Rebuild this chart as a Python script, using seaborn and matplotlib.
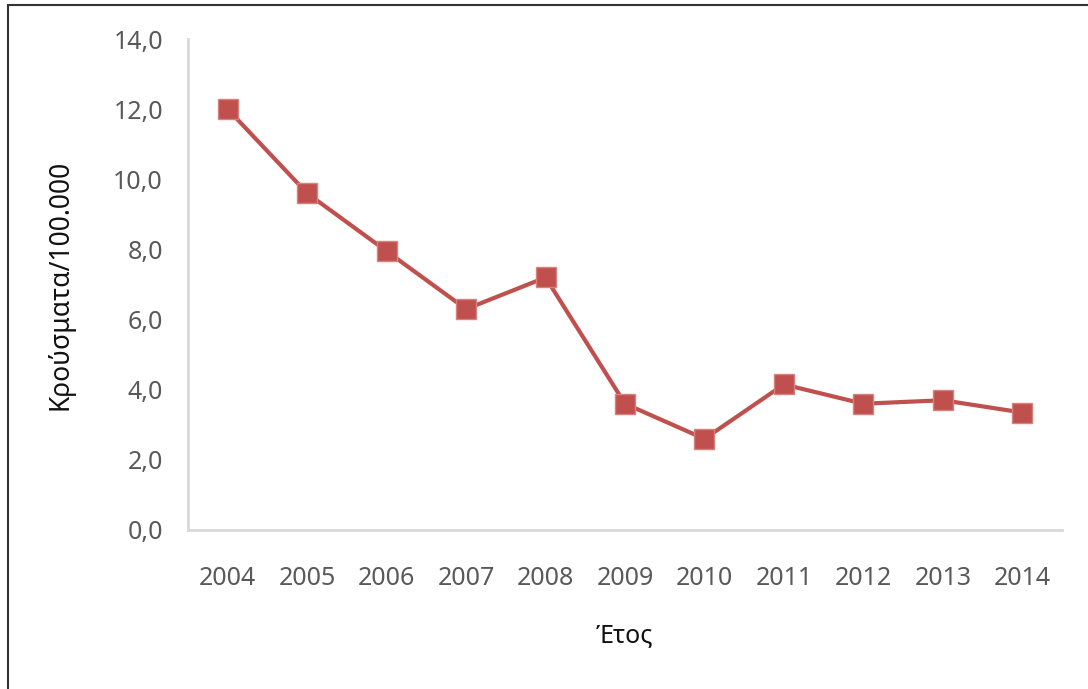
import matplotlib
matplotlib.use('Agg')
import matplotlib.pyplot as plt
import matplotlib.ticker as mticker
from matplotlib.patches import Rectangle
import seaborn as sns
import pandas as pd
import numpy as np

# Data
years = ['2004', '2005', '2006', '2007', '2008', '2009', '2010', '2011', '2012', '2013', '2014']
cases = [12.0, 9.6, 7.95, 6.3, 7.2, 3.6, 2.6, 4.15, 3.6, 3.7, 3.35]

df = pd.DataFrame({'Έτος': years, 'Κρούσματα': cases})

sns.set_style('white')
plt.rcParams['font.family'] = ['Noto Sans', 'DejaVu Sans']

line_color = '#C0504D'
axis_color = '#D9D9D9'
tick_text = '#595959'

fig = plt.figure(figsize=(10.88, 6.89), dpi=100)
ax = fig.add_axes([188 / 1088, 1 - 530 / 689, (1062 - 188) / 1088, (530 - 39) / 689])

sns.lineplot(data=df, x='Έτος', y='Κρούσματα', ax=ax, color=line_color,
             linewidth=3, marker='s', markersize=15, markeredgecolor='#D8827F',
             markeredgewidth=1)

ax.set_xlim(-0.5, len(years) - 0.5)
ax.set_ylim(0, 14)
ax.yaxis.set_major_locator(mticker.MultipleLocator(2))
ax.yaxis.set_major_formatter(mticker.FuncFormatter(lambda v, p: f'{v:.1f}'.replace('.', ',')))

# category tick marks between years, as in Excel
ax.set_xticks(np.arange(len(years)))
ax.set_xticklabels(years)
ax.set_xticks(np.arange(-0.5, len(years), 1), minor=True)
ax.tick_params(axis='x', which='major', length=0, pad=26, labelsize=18, labelcolor=tick_text)
ax.tick_params(axis='x', which='minor', length=7, width=1.5, color=axis_color, direction='out')
ax.tick_params(axis='y', length=8, width=1.5, color=axis_color, direction='out', pad=10,
               labelsize=18, labelcolor=tick_text)

for side in ['top', 'right']:
    ax.spines[side].set_visible(False)
for side in ['left', 'bottom']:
    ax.spines[side].set_color(axis_color)
    ax.spines[side].set_linewidth(2)

ax.set_xlabel('Έτος', fontsize=18, color='#111111', labelpad=0)
ax.set_ylabel('Κρούσματα/100.000', fontsize=19, color='#111111')
ax.xaxis.set_label_coords(0.5, -0.19)
ax.yaxis.set_label_coords(-0.13, 0.5)

# outer frame of the chart area (only the left and top edges are in view)
fig.patches.append(Rectangle((8 / 1088, -0.1), 1.1, 1.1 - 5 / 689, transform=fig.transFigure,
                             fill=False, edgecolor='#333333', linewidth=1.5))

fig.savefig('out.png', dpi=100)
